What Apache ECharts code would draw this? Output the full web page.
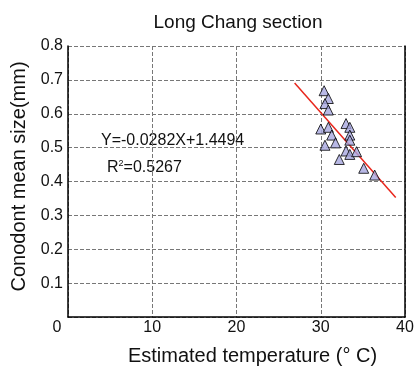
<!DOCTYPE html>
<html><head><meta charset="utf-8">
<script src="https://cdn.jsdelivr.net/npm/echarts@6/dist/echarts.min.js"></script>
<style>html,body{margin:0;padding:0;background:#fff}#c{width:417px;height:372px}</style>
</head><body><div id="c"></div>
<script>
var temperature = [30.4, 30.9, 30.5, 30.9, 33.0, 33.45, 30.0, 30.9, 31.3, 33.45, 33.45, 30.5, 31.75, 33.0, 33.45, 34.25, 32.2, 35.1, 36.4];
var meanSize    = [0.668, 0.645, 0.630, 0.611, 0.571, 0.560, 0.555, 0.560, 0.537, 0.537, 0.522, 0.507, 0.514, 0.490, 0.480, 0.488, 0.465, 0.439, 0.419];
var slope = -0.0282, intercept = 1.4494;
var fitRange = [26.9, 38.9];
var xTicks = [0, 10, 20, 30, 40];
var yTicks = [0.1, 0.2, 0.3, 0.4, 0.5, 0.6, 0.7, 0.8];

var F = 'Liberation Sans, Arial, sans-serif';
var points = temperature.map(function(t, i){ return [t, meanSize[i]]; });
var fitLine = fitRange.map(function(x){ return [x, slope * x + intercept]; });

var chart = echarts.init(document.getElementById('c'));
chart.setOption({
  animation: false,
  title: { text: 'Long Chang section', left: 233, top: 8, textAlign: 'center',
    textStyle: { fontFamily: F, fontSize: 19, fontWeight: 'normal', color: '#111' } },
  grid: { left: 68, right: 12, top: 46, bottom: 55 },
  xAxis: [{
    type: 'value', min: 0, max: 40, interval: 10,
    name: 'Estimated temperature (° C)', nameLocation: 'middle', nameGap: 29,
    nameTextStyle: { fontFamily: F, fontSize: 20, color: '#111', padding: [0, 0, 0, 32] },
    axisLine: { show: true, lineStyle: { color: '#000', width: 1.5 } },
    axisTick: { show: false },
    axisLabel: { fontFamily: F, fontSize: 16, color: '#111', margin: 3,
      formatter: function(v){ return v === 0 ? '{z|0}' : String(v); },
      rich: { z: { fontFamily: F, fontSize: 16, color: '#111', padding: [0, 22, 0, 0] } } },
    splitLine: { show: true, lineStyle: { color: '#777', type: 'dashed', width: 1 } }
  }],
  yAxis: [{
    type: 'value', min: 0, max: 0.8, interval: 0.1,
    name: 'Conodont mean size(mm)', nameLocation: 'middle', nameGap: 35,
    nameTextStyle: { fontFamily: F, fontSize: 20, color: '#111', padding: [0, 0, 0, 10] },
    axisLine: { show: true, lineStyle: { color: '#000', width: 1.5 } },
    axisTick: { show: false },
    axisLabel: { fontFamily: F, fontSize: 16, color: '#111', margin: 5,
      formatter: function(v){ return v === 0 ? '' : v.toFixed(1); } },
    splitLine: { show: true, lineStyle: { color: '#777', type: 'dashed', width: 1 } }
  }, {
    type: 'value', min: 0, max: 0.8, position: 'right',
    axisLine: { show: true, lineStyle: { color: '#000', width: 1.5 } },
    axisTick: { show: false }, axisLabel: { show: false }, splitLine: { show: false }
  }],
  graphic: [
    { type: 'text', left: 101, top: 133, style: { text: 'Y=-0.0282X+1.4494', font: '16px ' + F, fill: '#111' } },
    { type: 'text', left: 107, top: 159, style: { text: '{r|R}{s|2}{r|=0.5267}', font: '16px ' + F,
      rich: { r: { font: '16px ' + F, fill: '#111' }, s: { font: '9px ' + F, fill: '#111', verticalAlign: 'top', padding: [0,0,8,0] } } } }
  ],
  series: [
    { type: 'line', data: fitLine, symbol: 'none', lineStyle: { color: '#e8261c', width: 1.5 }, z: 2 },
    { type: 'scatter', data: points, symbol: 'triangle', symbolSize: [10, 10],
      itemStyle: { color: '#a6a6de', borderColor: '#000', borderWidth: 1 }, z: 3 }
  ]
});
</script></body></html>
